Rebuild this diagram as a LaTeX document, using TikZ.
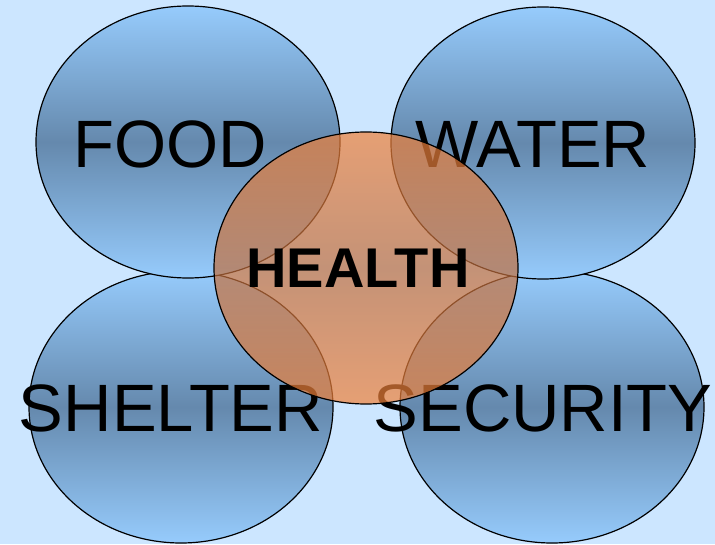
\documentclass[tikz,border=0pt]{standalone}
\usepackage{fontspec}
\setmainfont{Liberation Sans}
\definecolor{bgblue}{RGB}{204,230,255}
\definecolor{lightblue}{RGB}{150,203,252}
\definecolor{darkblue}{RGB}{101,137,173}
\definecolor{lightorange}{RGB}{241,130,58}
\definecolor{darkorange}{RGB}{193,111,62}
\newcommand{\RadX}{152}
\newcommand{\RadY}{136}

\begin{document}
\begin{tikzpicture}[x=1pt,y=1pt,
		need/.style={draw=black,line width=1.2pt,top color=lightblue,bottom color=lightblue,middle color=darkblue},
		core/.style={draw=black,line width=1.2pt,top color=lightorange,bottom color=lightorange,middle color=darkorange,fill opacity=0.7},
		needlabel/.style={inner sep=0pt,font=\fontsize{67}{67}\selectfont},
		corelabel/.style={inner sep=0pt,font=\fontsize{56}{56}\selectfont\bfseries}]
		\fill[bgblue] (0,0) rectangle (715,544);
		\useasboundingbox (0,0) rectangle (715,544);

		\coordinate (F) at (188,402);
		\coordinate (W) at (543,401);
		\coordinate (S) at (181,137);
		\coordinate (Y) at (552,137);
		\coordinate (H) at (366,276);

		\draw[need] (S) ellipse [x radius=\RadX, y radius=\RadY];% Shelter
		\draw[need] (Y) ellipse [x radius=\RadX, y radius=\RadY];% Security
		\draw[need] (F) ellipse [x radius=\RadX, y radius=\RadY];% Food
		\draw[need] (W) ellipse [x radius=\RadX, y radius=\RadY];% Water

		\node[needlabel] (food) at (170,400) {FOOD};
		\node[needlabel] (water) at (533,400) {WATER};
		\node[needlabel] (shelter) at (171,136) {SHELTER};
		\node[needlabel] (security) at (543,136) {SECURITY};

		\draw[core] (H) ellipse [x radius=\RadX, y radius=\RadY];% Health on top
		\node[corelabel] (health) at (358,276) {HEALTH};
	\end{tikzpicture}
\end{document}
